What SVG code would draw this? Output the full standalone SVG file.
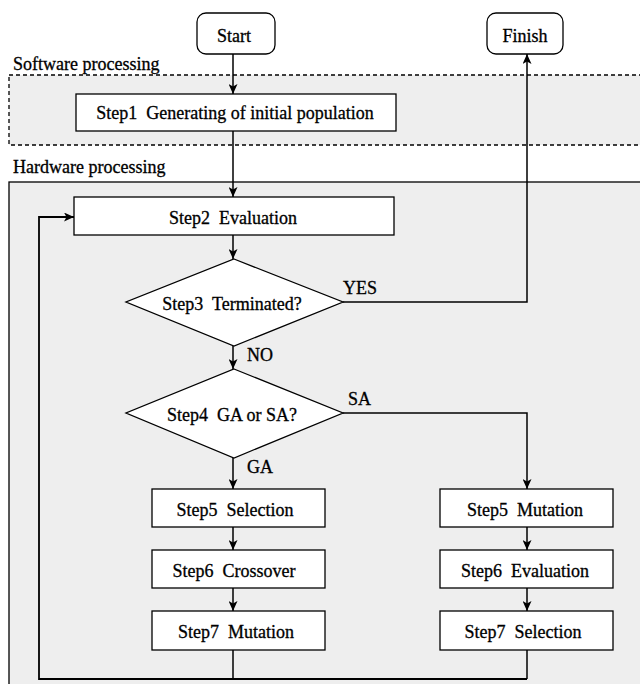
<svg xmlns="http://www.w3.org/2000/svg" width="640" height="684" viewBox="0 0 640 684">
<style>
  text { font-family: 'Liberation Serif', 'Times New Roman', Times, 'DejaVu Serif', serif; font-size: 18px; fill: #000; stroke: #000; stroke-width: 0.3; }
  .c { text-anchor: middle; }
  .box { fill: #fff; stroke: #000; stroke-width: 1.3; }
  .line { fill: none; stroke: #000; stroke-width: 1.5; }
  .arr { marker-end: url(#ah); }
</style>
<defs>
  <marker id="ah" markerWidth="11" markerHeight="9" refX="10" refY="4.5" orient="auto" markerUnits="userSpaceOnUse">
    <path d="M0,0 L10,4.5 L0,9 L2.5,4.5 Z" fill="#000"/>
  </marker>
</defs>
<rect width="640" height="684" fill="#fff"/>

<g id="software-region">
  <rect x="9" y="75" width="640" height="70" fill="#eeeeee" stroke="#000" stroke-width="1.3" stroke-dasharray="4 3"/>
  <text x="13" y="70">Software processing</text>
</g>
<g id="hardware-region">
  <rect x="9" y="182" width="640" height="520" fill="#eeeeee" stroke="#000" stroke-width="1.3"/>
  <text x="13" y="173">Hardware processing</text>
</g>

<g id="connectors">
  <line class="line arr" x1="233" y1="54" x2="233" y2="94"/>
  <line class="line arr" x1="233" y1="131" x2="233" y2="197"/>
  <line class="line arr" x1="233" y1="235" x2="233" y2="259"/>
  <line class="line arr" x1="233" y1="346" x2="233" y2="369"/>
  <line class="line arr" x1="233" y1="458" x2="233" y2="489"/>
  <line class="line arr" x1="233" y1="527" x2="233" y2="550"/>
  <line class="line arr" x1="233" y1="588" x2="233" y2="611"/>
  <polyline class="line arr" points="343,302 527,302 527,54"/>
  <polyline class="line arr" points="343,413 527,413 527,489"/>
  <line class="line arr" x1="527" y1="527" x2="527" y2="550"/>
  <line class="line arr" x1="527" y1="588" x2="527" y2="611"/>
  <line class="line" x1="233" y1="650" x2="233" y2="679"/>
  <line class="line" x1="527" y1="650" x2="527" y2="679"/>
  <polyline class="line arr" points="527,679 39,679 39,217 74,217" style="stroke-width:1.8"/>
  <text x="343" y="294">YES</text>
  <text x="247" y="361">NO</text>
  <text x="348" y="405">SA</text>
  <text x="247" y="473">GA</text>
</g>

<g id="start">
  <rect class="box" x="197" y="13" width="78" height="41" rx="9"/>
  <text class="c" x="234" y="42">Start</text>
</g>
<g id="finish">
  <rect class="box" x="487" y="13" width="76" height="41" rx="9"/>
  <text class="c" x="525" y="42">Finish</text>
</g>
<g id="step1">
  <rect class="box" x="76" y="94" width="320" height="37"/>
  <text class="c" x="235" y="119" xml:space="preserve">Step1  Generating of initial population</text>
</g>
<g id="step2">
  <rect class="box" x="74" y="197" width="320" height="38"/>
  <text class="c" x="233" y="224" xml:space="preserve">Step2  Evaluation</text>
</g>
<g id="step3">
  <polygon class="box" points="234,259 343,302 234,346 126,302"/>
  <text class="c" x="232" y="310" xml:space="preserve">Step3  Terminated?</text>
</g>
<g id="step4">
  <polygon class="box" points="234,369 343,413 234,458 126,413"/>
  <text class="c" x="232" y="421" xml:space="preserve">Step4  GA or SA?</text>
</g>
<g id="ga-step5">
  <rect class="box" x="152" y="489" width="173" height="38"/>
  <text class="c" x="235" y="516" xml:space="preserve">Step5  Selection</text>
</g>
<g id="ga-step6">
  <rect class="box" x="152" y="550" width="173" height="38"/>
  <text class="c" x="234" y="577" xml:space="preserve">Step6  Crossover</text>
</g>
<g id="ga-step7">
  <rect class="box" x="152" y="611" width="173" height="39"/>
  <text class="c" x="236" y="638" xml:space="preserve">Step7  Mutation</text>
</g>
<g id="sa-step5">
  <rect class="box" x="440" y="489" width="173" height="38"/>
  <text class="c" x="525" y="516" xml:space="preserve">Step5  Mutation</text>
</g>
<g id="sa-step6">
  <rect class="box" x="440" y="550" width="173" height="38"/>
  <text class="c" x="525" y="577" xml:space="preserve">Step6  Evaluation</text>
</g>
<g id="sa-step7">
  <rect class="box" x="440" y="611" width="173" height="39"/>
  <text class="c" x="523" y="638" xml:space="preserve">Step7  Selection</text>
</g>
</svg>
